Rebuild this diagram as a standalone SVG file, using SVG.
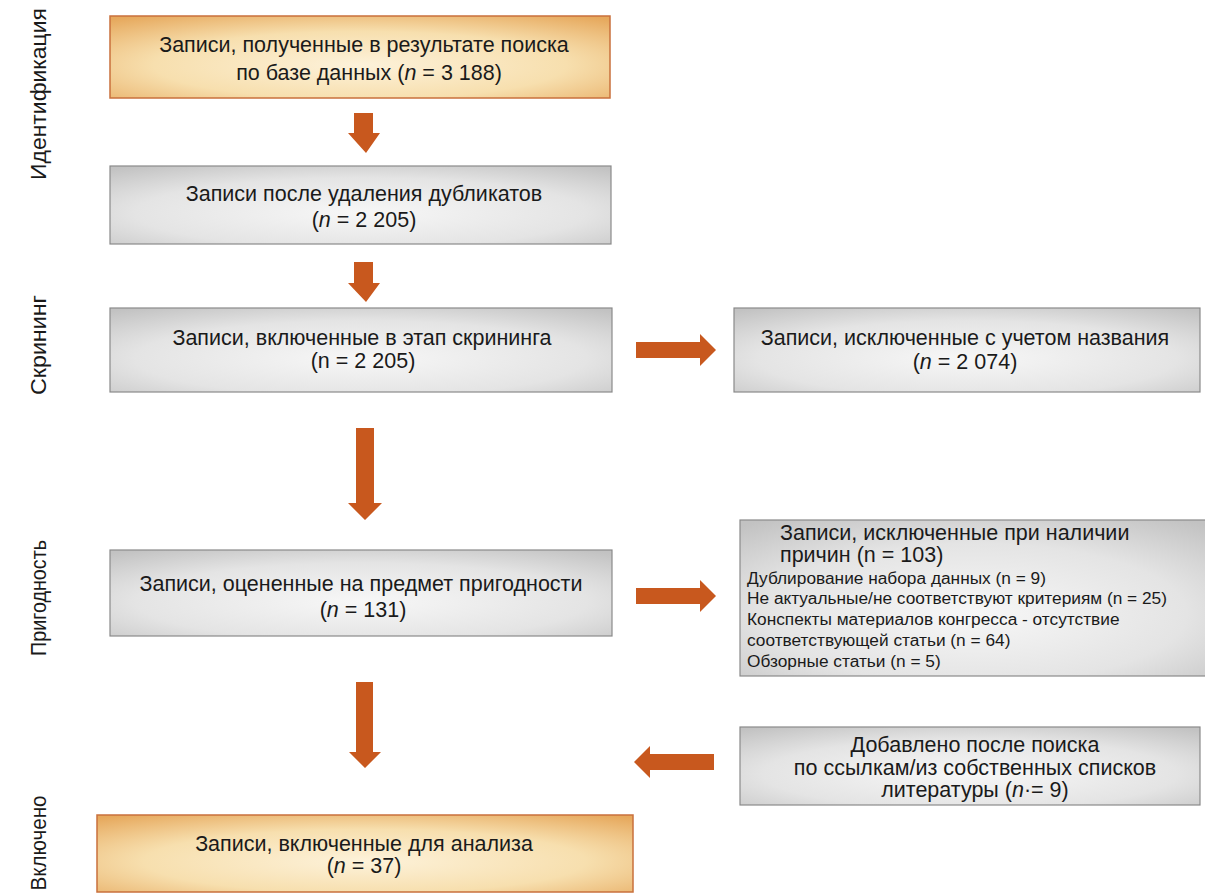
<svg xmlns="http://www.w3.org/2000/svg" width="1205" height="896" viewBox="0 0 1205 896">
<defs>
<radialGradient id="gOr" cx="0.5" cy="0.6" r="0.75">
<stop offset="0" stop-color="#fdf2da"/>
<stop offset="0.55" stop-color="#f7dfae"/>
<stop offset="1" stop-color="#e6a85c"/>
</radialGradient>
<radialGradient id="gGr" cx="0.5" cy="0.6" r="0.75">
<stop offset="0" stop-color="#f7f7f7"/>
<stop offset="0.6" stop-color="#e4e4e4"/>
<stop offset="1" stop-color="#c2c2c2"/>
</radialGradient>
<style>
.or{fill:url(#gOr);stroke:#c9703c;stroke-width:1.5}
.gr{fill:url(#gGr);stroke:#8a8a8a;stroke-width:1.2}
.t{font-family:"Liberation Sans",Arial,sans-serif;font-size:21.5px;fill:#1a1a1a;text-anchor:middle}
.ts{font-family:"Liberation Sans",Arial,sans-serif;font-size:17.3px;fill:#1a1a1a}
.tt{font-family:"Liberation Sans",Arial,sans-serif;font-size:21.5px;fill:#1a1a1a}
.side{font-family:"Liberation Sans",Arial,sans-serif;font-size:22px;fill:#1a1a1a;text-anchor:middle}
.ar{fill:#c8581e}
</style>
</defs>
<rect width="1205" height="896" fill="#ffffff"/>
<g id="labels">
<text class="side" transform="translate(46,94) rotate(-90)" textLength="172" lengthAdjust="spacingAndGlyphs">Идентификация</text>
<text class="side" transform="translate(46,345) rotate(-90)" textLength="100" lengthAdjust="spacingAndGlyphs">Скрининг</text>
<text class="side" transform="translate(46,598) rotate(-90)" textLength="116" lengthAdjust="spacingAndGlyphs">Пригодность</text>
<text class="side" transform="translate(46,843) rotate(-90)" textLength="95" lengthAdjust="spacingAndGlyphs">Включено</text>
</g>
<g id="n1"><rect class="or" x="110" y="16" width="500" height="82"/>
<text class="t" x="364" y="52">Записи, полученные в результате поиска</text>
<text class="t" x="369" y="80">по базе данных (<tspan font-style="italic">n</tspan> = 3 188)</text></g>
<g id="n2"><rect class="gr" x="110" y="166" width="501" height="78"/>
<text class="t" x="364" y="201">Записи после удаления дубликатов</text>
<text class="t" x="364" y="227">(<tspan font-style="italic">n</tspan> = 2 205)</text></g>
<g id="n3"><rect class="gr" x="110" y="308" width="502" height="84"/>
<text class="t" x="362" y="345">Записи, включенные в этап скрининга</text>
<text class="t" x="363" y="368">(n = 2 205)</text></g>
<g id="n4"><rect class="gr" x="734" y="308" width="466" height="84"/>
<text class="t" x="965" y="345">Записи, исключенные с учетом названия</text>
<text class="t" x="965" y="369">(<tspan font-style="italic">n</tspan> = 2 074)</text></g>
<g id="n5"><rect class="gr" x="110" y="550" width="502" height="86"/>
<text class="t" x="361" y="591">Записи, оцененные на предмет пригодности</text>
<text class="t" x="363" y="617">(<tspan font-style="italic">n</tspan> = 131)</text></g>
<g id="n6"><rect class="gr" x="740" y="520" width="470" height="156"/>
<text class="tt" x="780" y="540">Записи, исключенные при наличии</text>
<text class="tt" x="780" y="562">причин (n = 103)</text>
<text class="ts" x="747" y="584">Дублирование набора данных (n = 9)</text>
<text class="ts" x="747" y="604">Не актуальные/не соответствуют критериям (n = 25)</text>
<text class="ts" x="747" y="625">Конспекты материалов конгресса - отсутствие</text>
<text class="ts" x="747" y="646">соответствующей статьи (n = 64)</text>
<text class="ts" x="747" y="667">Обзорные статьи (n = 5)</text></g>
<g id="n7"><rect class="gr" x="740" y="727" width="460" height="78"/>
<text class="t" x="975" y="752">Добавлено после поиска</text>
<text class="t" x="975" y="775">по ссылкам/из собственных списков</text>
<text class="t" x="975" y="797">литературы (<tspan font-style="italic">n</tspan>·= 9)</text></g>
<g id="n8"><rect class="or" x="97" y="815" width="536" height="77"/>
<text class="t" x="364" y="851">Записи, включенные для анализа</text>
<text class="t" x="364" y="873">(<tspan font-style="italic">n</tspan> = 37)</text></g>
<g id="connectors">
<polygon class="ar" points="354,113 373,113 373,133 380,133 366,153 348,133 354,133"/>
<polygon class="ar" points="354,262 373,262 373,283 380,283 366,302 348,283 354,283"/>
<polygon class="ar" points="356,428 374,428 374,503 382,503 365,520 348,503 356,503"/>
<polygon class="ar" points="356,682 373,682 373,752 381,752 365,768 349,752 356,752"/>
<polygon class="ar" points="636,342 700,342 700,334 716,350 700,366 700,358 636,358"/>
<polygon class="ar" points="636,588 700,588 700,580 716,596 700,612 700,604 636,604"/>
<polygon class="ar" points="714,754 650,754 650,746 634,762 650,778 650,770 714,770"/>
</g>
</svg>
